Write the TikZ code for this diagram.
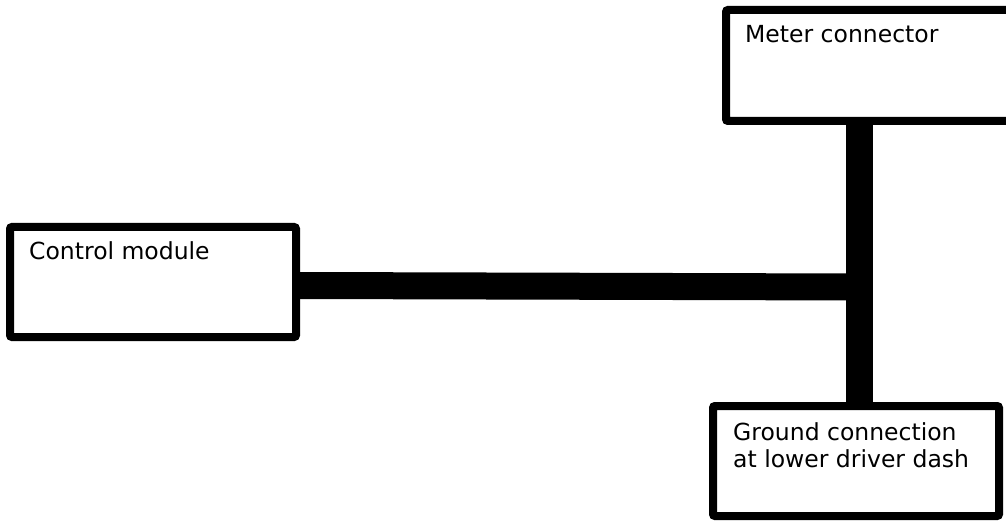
\documentclass[tikz,border=0pt]{standalone}
\usepackage{fontspec}
\setmainfont{DejaVu Sans}
\begin{document}
\begin{tikzpicture}[x=1pt,y=-1pt,
  box/.style={draw=black, line width=8pt, rectangle, rounded corners=2pt, fill=white, inner sep=0pt},
  lbl/.style={inner sep=0pt, anchor=base west, align=left, font=\fontsize{23.5}{27}\selectfont},
  bus/.style={line width=27pt, line cap=butt, draw=black}]
\useasboundingbox (0,0) rectangle (1006,521);
\clip (0,0) rectangle (1006,521);
\coordinate (j) at (859,287);
\node[box, minimum width=289pt, minimum height=111pt] (meter) at (870.5,65.5) {};
\node[box, minimum width=286pt, minimum height=110pt] (cm) at (153,282) {};
\node[box, minimum width=286pt, minimum height=110pt] (gnd) at (856,461) {};
\draw[bus] (j |- meter.south) -- (j |- gnd.north);
\draw[bus] ([yshift=-3.5pt]cm.east) -- (j);
\node[lbl] (tmeter) at (745,43) {Meter connector};
\node[lbl] (tcm) at (29,260) {Control module};
\node[lbl] (tgnd) at (733,467) {Ground connection\\at lower driver dash};
\end{tikzpicture}
\end{document}
